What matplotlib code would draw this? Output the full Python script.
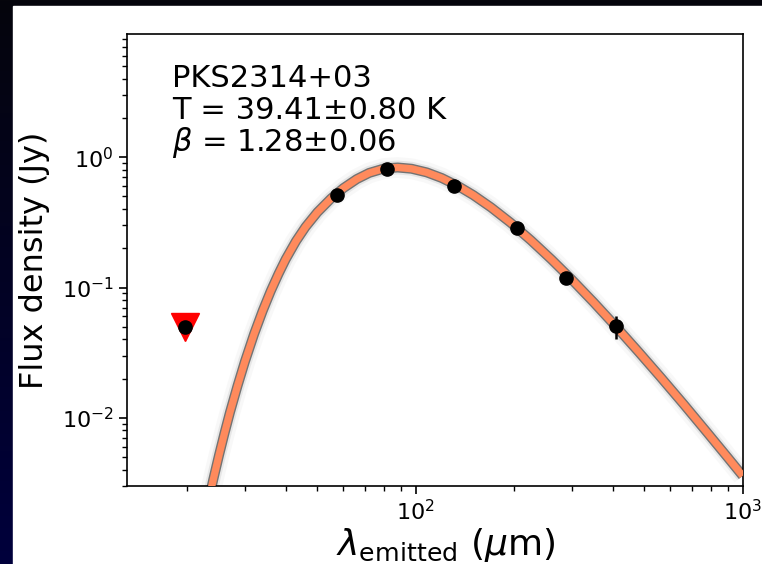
import matplotlib
matplotlib.use("Agg")
import matplotlib.pyplot as plt
import numpy as np
from matplotlib.colors import LinearSegmentedColormap
from matplotlib.patches import Rectangle

# measured photometry (rest-frame wavelength, um / flux density, Jy)
lam_obs = [57.3, 81.9, 131.2, 204.5, 287.5, 410.8]
flux = [0.508, 0.813, 0.603, 0.286, 0.118, 0.0503]
flux_err = [0.02, 0.03, 0.02, 0.01, 0.006, 0.01]

# upper limit
lam_lim = [19.7]
flux_lim = [0.0498]

# best-fit curve
lam_fit = [23, 24, 25, 26, 27, 28.5, 30, 32, 34, 36, 38, 40, 43, 46, 50,
           55, 60, 66, 72, 80, 88, 97, 108, 120, 135, 150, 170, 195, 225,
           260, 300, 350, 410, 480, 560, 660, 780, 900, 1000]
flux_fit = [0.00208, 0.00335, 0.00517, 0.00766, 0.0110, 0.0177, 0.0270,
            0.0439, 0.0662, 0.0941, 0.127, 0.165, 0.227, 0.292, 0.378,
            0.481, 0.578, 0.679, 0.757, 0.819, 0.833, 0.815, 0.764, 0.692,
            0.598, 0.511, 0.411, 0.314, 0.230, 0.164, 0.115, 0.0769,
            0.0500, 0.0321, 0.0206, 0.0127, 0.00767, 0.00496, 0.00359]

label_lines = ["PKS2314+03", "T = 39.41\u00b10.80 K", r"$\beta$ = 1.28$\pm$0.06"]

fig = plt.figure(figsize=(7.62, 5.64), dpi=100)

# dark slide background with white panel
bg = fig.add_axes([0, 0, 1, 1], zorder=-10)
bg.axis("off")
grad = np.linspace(0, 1, 256).reshape(-1, 1)
cmap = LinearSegmentedColormap.from_list("bg", ["#05050c", "#00003c"])
bg.imshow(grad, aspect="auto", cmap=cmap, extent=[0, 1, 0, 1])
bg.add_patch(Rectangle((13 / 762, 0), 1, 1 - 6 / 564,
                       transform=bg.transAxes, color="white"))
bg.set_xlim(0, 1)
bg.set_ylim(0, 1)

ax = fig.add_axes([0.1663, 0.1383, 0.8084, 0.8019])

# posterior spread + best fit
ax.plot(lam_fit, flux_fit, color="0.5", lw=15, alpha=0.05, zorder=2,
        solid_capstyle="butt")
ax.plot(lam_fit, flux_fit, color="0.5", lw=10, alpha=0.15, zorder=2,
        solid_capstyle="butt")
ax.plot(lam_fit, flux_fit, color="0.3", lw=7.2, alpha=0.75, zorder=2,
        solid_capstyle="butt")
ax.plot(lam_fit, flux_fit, color="#ff8a5c", lw=5.2, zorder=3,
        solid_capstyle="butt")

ax.plot(lam_lim, flux_lim, "v", color="red", ms=20, zorder=4)
ax.plot(lam_lim, flux_lim, "o", color="k", ms=9.5, zorder=5)
ax.errorbar(lam_obs, flux, yerr=flux_err, fmt="o", color="k", ms=9.5,
            elinewidth=1.8, capsize=0, zorder=5)

ax.set_xscale("log")
ax.set_yscale("log")
ax.set_xlim(13.05, 1000)
ax.set_ylim(0.003, 8.85)

ax.set_xlabel(r"$\lambda_{\rm emitted}$ ($\mu$m)", fontsize=26)
ax.xaxis.set_label_coords(0.518, -0.088)
ax.set_ylabel("Flux density (Jy)", fontsize=23, labelpad=8)

ax.tick_params(which="major", length=6, width=1.2, labelsize=16)
ax.tick_params(which="minor", length=3.5, width=1.0)
for s in ax.spines.values():
    s.set_linewidth(1.2)

ys = [0.8821, 0.8114, 0.7407]
for txt, yy in zip(label_lines, ys):
    ax.text(0.0735, yy, txt, transform=ax.transAxes, fontsize=22,
            va="baseline", ha="left")

fig.savefig("out.png", dpi=100)
